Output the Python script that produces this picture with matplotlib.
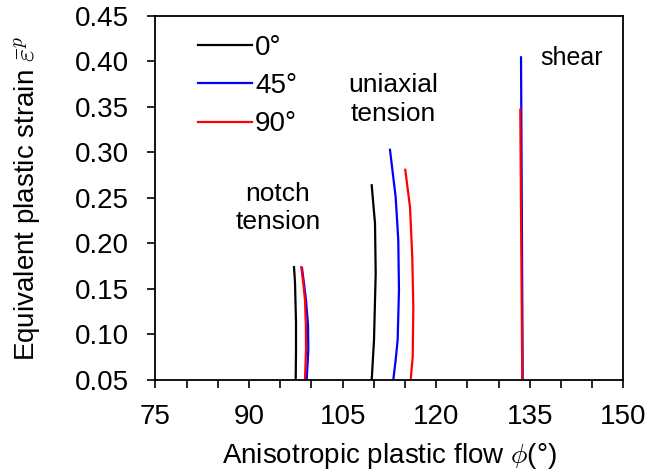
import numpy as np
import matplotlib.pyplot as plt
from matplotlib.ticker import MultipleLocator

plt.rcParams['font.family'] = ['Liberation Sans', 'DejaVu Sans']
plt.rcParams['mathtext.fontset'] = 'cm'

# Curves: (phi in degrees, equivalent plastic strain)
# notch tension
notch0_phi = [97.47, 97.52, 97.52, 97.36, 97.2]
notch0_eps = [0.05, 0.083, 0.113, 0.157, 0.174]
notch45_phi = [99.23, 99.49, 99.45, 99.12, 98.8, 98.48]
notch45_eps = [0.05, 0.083, 0.11, 0.138, 0.156, 0.173]
notch90_phi = [98.96, 99.12, 99.1, 98.96, 98.69, 98.37]
notch90_eps = [0.05, 0.083, 0.11, 0.138, 0.156, 0.174]

# uniaxial tension
uni0_phi = [109.65, 110.02, 110.29, 110.18, 109.65]
uni0_eps = [0.05, 0.094, 0.167, 0.222, 0.264]
uni45_phi = [113.11, 113.49, 113.81, 114.02, 113.91, 113.49, 112.58]
uni45_eps = [0.05, 0.072, 0.094, 0.149, 0.204, 0.251, 0.303]
uni90_phi = [115.9, 116.22, 116.32, 116.15, 115.79, 115.03]
uni90_eps = [0.05, 0.0756, 0.1305, 0.1855, 0.24, 0.281]

# shear
shear45_phi = [133.85, 133.58]
shear45_eps = [0.05, 0.4046]
shear90_phi = [133.78, 133.46]
shear90_eps = [0.05, 0.347]

fs = 20
fig = plt.figure(figsize=(6.53, 4.76), dpi=100)
ax = fig.add_axes([0.2381, 0.2017, 0.7167, 0.7647])

lw = 1.6
ax.plot(notch0_phi, notch0_eps, 'k', lw=lw, label='0°')
ax.plot(uni45_phi, uni45_eps, 'b', lw=lw, label='45°')
ax.plot(uni90_phi, uni90_eps, 'r', lw=lw, label='90°')
ax.plot(uni0_phi, uni0_eps, 'k', lw=lw)
ax.plot(notch45_phi, notch45_eps, 'b', lw=lw)
ax.plot(notch90_phi, notch90_eps, 'r', lw=lw)
ax.plot(shear45_phi, shear45_eps, 'b', lw=lw)
ax.plot(shear90_phi, shear90_eps, 'r', lw=lw)

ax.set_xlim(75, 150)
ax.set_ylim(0.05, 0.45)
ax.set_xticks([75, 90, 105, 120, 135, 150])
ax.xaxis.set_minor_locator(MultipleLocator(5))
ax.set_yticks(np.arange(0.05, 0.451, 0.05))
ax.yaxis.set_major_formatter(plt.FormatStrFormatter('%.2f'))
ax.tick_params(which='both', direction='out', length=6, width=1.2,
               labelsize=fs)
ax.tick_params(axis='y', pad=13)
ax.tick_params(axis='x', pad=11)
for s in ax.spines.values():
    s.set_linewidth(1.3)

ax.set_xlabel(r'Anisotropic plastic flow $\phi$(°)', fontsize=fs, labelpad=8)
ax.set_ylabel(r'Equivalent plastic strain $\bar{\varepsilon}^p$', fontsize=fs,
              labelpad=24)

ax.text(94.63, 0.239, 'notch\ntension', fontsize=19, ha='center',
        va='center', linespacing=1.25)
ax.text(113.06, 0.358, 'uniaxial\ntension', fontsize=19, ha='center',
        va='center', linespacing=1.25)
ax.text(141.67, 0.404, 'shear', fontsize=18, ha='center', va='center')

ax.legend(loc='upper left', bbox_to_anchor=(0.091, 0.948), frameon=False,
          fontsize=fs, handlelength=1.95, handletextpad=0.1,
          labelspacing=0.44, borderaxespad=0, borderpad=0)

fig.savefig('out.png')
